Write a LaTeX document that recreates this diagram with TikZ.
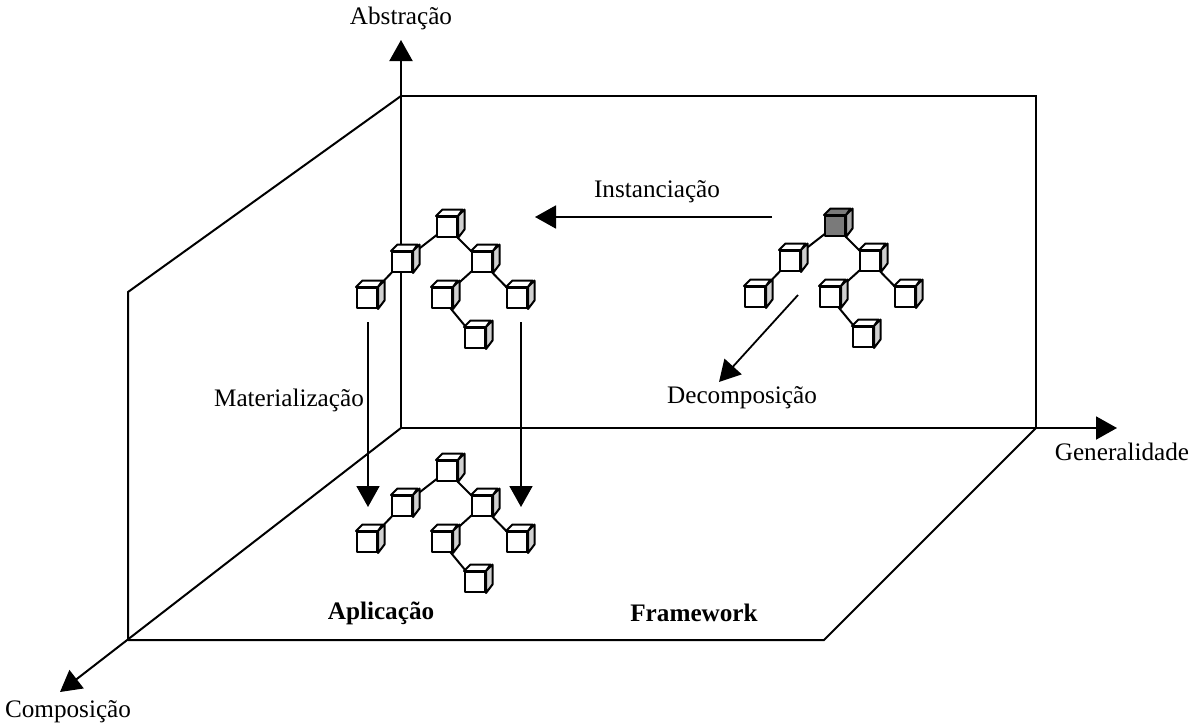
\documentclass[tikz,border=0pt]{standalone}
\usepackage{fontspec}
\setmainfont{Liberation Serif}
\usetikzlibrary{arrows.meta,backgrounds}
\definecolor{cubeside}{HTML}{D0D0D0}
\definecolor{darkfront}{HTML}{7A7A7A}
\definecolor{darkside}{HTML}{A8A8A8}
\tikzset{
  axis/.style={line width=1pt,-{Triangle[length=10.5pt,width=11.5pt]}},
  wall/.style={line width=1pt,line join=miter},
  flow/.style={line width=0.9pt,-{Triangle[length=10.5pt,width=11.5pt]}},
  cubef/.style={draw,line width=1pt,minimum size=10pt,inner sep=0pt,line join=round},
  face/.style={draw,line width=1pt,line join=round},
  link/.style={line width=1pt},
  lbl/.style={font=\fontsize{12.6}{15}\selectfont,inner sep=0pt},
}
\newcommand{\cubefaces}[3]{%
  \path[face,fill=#2] (#1.north west) -- ++(6.5,-6.5) -- ++(20,0) -- (#1.north east) -- cycle;
  \path[face,fill=#3] (#1.north east) -- ++(6.5,-6.5) -- ++(0,20) -- (#1.south east) -- cycle;}
% #1 prefix, #2 dx, #3 dy, #4 root front, #5 root top, #6 root side
\newcommand{\cubetree}[6]{%
  \node[cubef,fill=#4] (#1r) at ({447+#2},{227+#3}) {};
  \node[cubef,fill=white] (#1a) at ({402+#2},{262+#3}) {};
  \node[cubef,fill=white] (#1b) at ({482+#2},{262+#3}) {};
  \node[cubef,fill=white] (#1c) at ({367+#2},{298+#3}) {};
  \node[cubef,fill=white] (#1d) at ({442+#2},{298+#3}) {};
  \node[cubef,fill=white] (#1e) at ({517+#2},{298+#3}) {};
  \node[cubef,fill=white] (#1f) at ({475+#2},{338+#3}) {};
  \cubefaces{#1r}{#5}{#6}
  \cubefaces{#1a}{white}{cubeside}
  \cubefaces{#1b}{white}{cubeside}
  \cubefaces{#1c}{white}{cubeside}
  \cubefaces{#1d}{white}{cubeside}
  \cubefaces{#1e}{white}{cubeside}
  \cubefaces{#1f}{white}{cubeside}
  \begin{scope}[on background layer]
    \draw[link] (#1r.center) -- (#1a.center);
    \draw[link] (#1r.center) -- (#1b.center);
    \draw[link] (#1a.center) -- (#1c.center);
    \draw[link] (#1b.center) -- (#1d.center);
    \draw[link] (#1b.center) -- (#1e.center);
    \draw[link] (#1d.center) -- (#1f.center);
  \end{scope}}
\begin{document}
\begin{tikzpicture}[x=0.5pt,y=-0.5pt]
\useasboundingbox (0,0) rectangle (1191,724);

% frame coordinates
\coordinate (O) at (401,428);
\coordinate (Ztip) at (401,40);
\coordinate (Xtip) at (1117,428);
\coordinate (Ytip) at (60,692);
\coordinate (BW1) at (401,96);
\coordinate (BW2) at (1036,96);
\coordinate (BW3) at (1036,428);
\coordinate (LW1) at (128,292);
\coordinate (F1) at (128,640);
\coordinate (F2) at (824,640);

% walls and floor
\draw[wall] (BW1) -- (BW2) -- (BW3);
\draw[wall] (F1) -- (LW1) -- (BW1);
\draw[wall] (F1) -- (F2) -- (BW3);

% axes
\draw[axis] (O) -- (Ztip);
\draw[axis] (O) -- (Xtip);
\draw[axis] (O) -- (Ytip);

% axis labels
\node[lbl] (labZ) at (401,18) {Abstração};
\node[lbl] (labX) at (1122,452) {Generalidade};
\node[lbl] (labY) at (68,712) {Composição};

% trees
\cubetree{A}{0}{0}{white}{white}{cubeside}
\cubetree{F}{388}{-1}{darkfront}{darkfront}{darkside}
\cubetree{M}{0}{244}{white}{white}{cubeside}

% process arrows
\coordinate (I1) at (772,217);
\coordinate (I2) at (535,217);
\draw[flow] (I1) -- (I2);
\node[lbl] (labI) at (657,192) {Instanciação};

\coordinate (D1) at (798,295);
\coordinate (D2) at (719,382);
\draw[flow] (D1) -- (D2);
\node[lbl] (labD) at (742,398) {Decomposição};

\coordinate (ML1) at (368,322);
\coordinate (ML2) at (368,507);
\coordinate (MR1) at (521,322);
\coordinate (MR2) at (521,507);
\draw[flow] (ML1) -- (ML2);
\draw[flow] (MR1) -- (MR2);
\node[lbl] (labM) at (289,400) {Materialização};

% floor labels
\node[lbl,font=\fontsize{12.6}{15}\selectfont\bfseries] (labApp) at (381,613) {Aplicação};
\node[lbl,font=\fontsize{12.6}{15}\selectfont\bfseries] (labFw) at (694,613) {Framework};
\end{tikzpicture}
\end{document}
